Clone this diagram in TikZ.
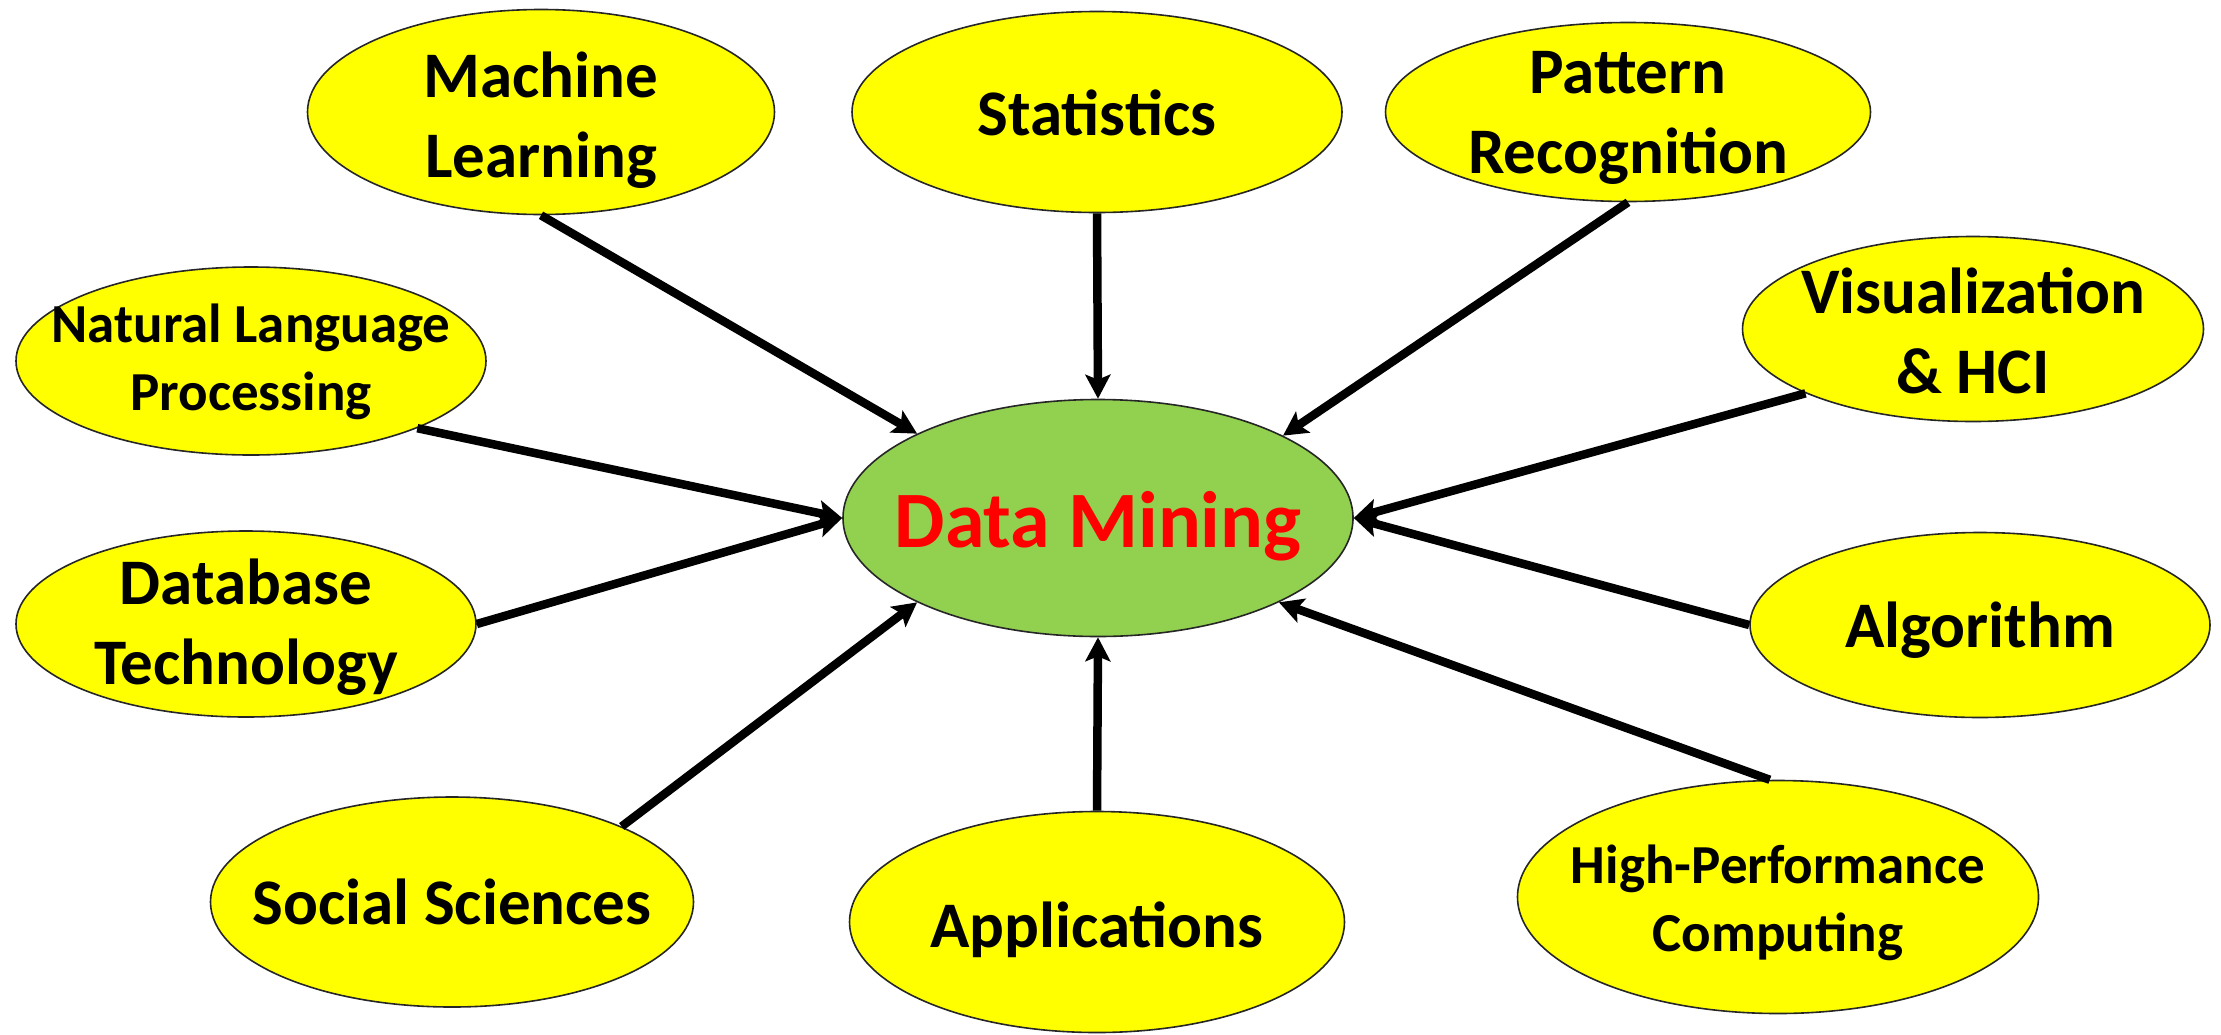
\documentclass[tikz,border=0pt]{standalone}
\usepackage{fontspec}
\setmainfont{Carlito}
\usetikzlibrary{shapes.geometric,arrows.meta}
\definecolor{ylw}{RGB}{255,255,0}
\definecolor{grn}{RGB}{146,208,80}
\definecolor{rd}{RGB}{255,0,0}
\begin{document}
\begin{tikzpicture}[x=1pt,y=-1pt,
  bub/.style={ellipse, draw=black!85, line width=1.6pt, fill=ylw, inner sep=0pt},
  lbl/.style={font=\fontsize{65}{80}\selectfont\bfseries, align=center, inner sep=0pt, anchor=base},
  slbl/.style={font=\fontsize{55}{68}\selectfont\bfseries, align=center, inner sep=0pt, anchor=base},
  arr/.style={-{Stealth[length=24pt,width=25pt,inset=5pt]}, line width=8.5pt, black}]
\useasboundingbox (0,0) rectangle (2221,1034);

% central node
\node[ellipse, draw=black!85, line width=1.6pt, fill=grn, inner sep=0pt,
      minimum width=510pt, minimum height=237pt] (dm) at (1098,518) {};
\node[font=\fontsize{80}{96}\selectfont\bfseries, text=rd, inner sep=0pt, anchor=base] (dmt) at (1098,547) {Data Mining};

% outer nodes
\node[bub, minimum width=467pt, minimum height=205pt] (ml) at (541,112) {};
\node[lbl] (mlt) at (541,177) {Machine\\Learning};

\node[bub, minimum width=490pt, minimum height=201pt] (st) at (1097,112) {};
\node[lbl] (stt) at (1097,135) {Statistics};

\node[bub, minimum width=485pt, minimum height=179pt] (pr) at (1628,112) {};
\node[lbl] (prt) at (1628,173) {Pattern\\Recognition};

\node[bub, minimum width=461pt, minimum height=185pt] (vi) at (1973,329) {};
\node[lbl] (vit) at (1973,393) {Visualization\\\& HCI};

\node[bub, minimum width=470pt, minimum height=188pt] (nlp) at (251,361) {};
\node[slbl] (nlpt) at (251,410) {Natural Language\\Processing};

\node[bub, minimum width=460pt, minimum height=186pt] (db) at (246,624) {};
\node[lbl] (dbt) at (246,684) {Database\\Technology};

\node[bub, minimum width=483pt, minimum height=210pt] (ss) at (452,902) {};
\node[lbl] (sst) at (452,924) {Social Sciences};

\node[bub, minimum width=495pt, minimum height=221pt] (ap) at (1097,922) {};
\node[lbl] (apt) at (1097,947) {Applications};

\node[bub, minimum width=460pt, minimum height=185pt] (al) at (1980,625) {};
\node[lbl] (alt) at (1980,647) {Algorithm};

\node[bub, minimum width=521pt, minimum height=233pt] (hpc) at (1778,897) {};
\node[slbl] (hpct) at (1778,951) {High-Performance\\Computing};

% connectors
\draw[arr] (ml.south) -- (dm.155);
\draw[arr] (st.south) -- (dm.north);
\draw[arr] (pr.south) -- (dm.24);
\draw[arr] (vi.201) -- (dm.east);
\draw[arr] (nlp.338) -- (dm.west);
\draw[arr] (db.east) -- (dm.west);
\draw[arr] (ss.24) -- (dm.205);
\draw[arr] (ap.north) -- (dm.south);
\draw[arr] (al.west) -- (dm.east);
\draw[arr] (hpc.94) -- (dm.335);
\end{tikzpicture}
\end{document}
